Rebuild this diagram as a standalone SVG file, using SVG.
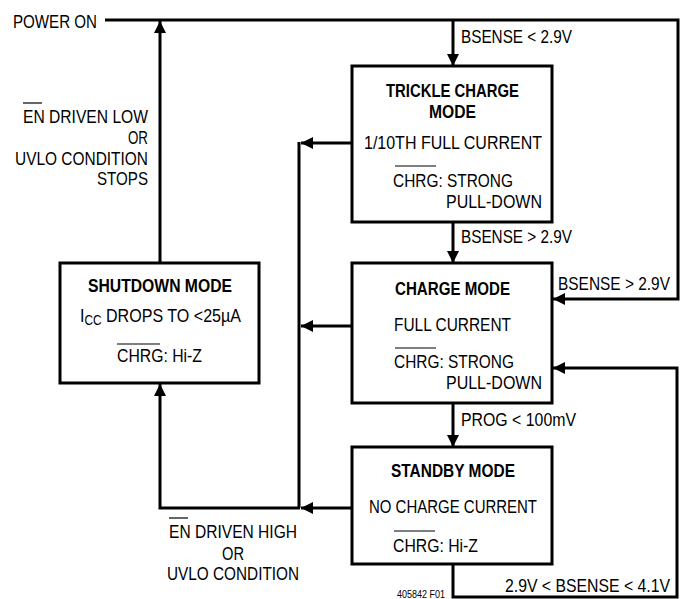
<svg xmlns="http://www.w3.org/2000/svg" width="685" height="599" viewBox="0 0 685 599">
<style>
text { font-family: "Liberation Sans", Arial, sans-serif; font-size: 19px; fill: #000; }
.b { font-weight: bold; }
.box { fill: #fff; stroke: #000; stroke-width: 3; }
.ln { fill: none; stroke: #000; stroke-width: 3; }
.ol { stroke: #000; stroke-width: 1.2; }
.small { font-size: 10px; }
</style>
<defs>
<marker id="ah" markerUnits="userSpaceOnUse" markerWidth="12" markerHeight="12" refX="12" refY="6" orient="auto" viewBox="0 0 12 12">
<path d="M0,0 L12,6 L0,12 z" fill="#000"/>
</marker>
</defs>
<rect width="685" height="599" fill="#fff"/>
<g id="connectors">
<path class="ln" d="M105,20 H678 V299 H553" marker-end="url(#ah)"/>
<path class="ln" d="M453,20 V66" marker-end="url(#ah)"/>
<path class="ln" d="M160,263 V21" marker-end="url(#ah)"/>
<path class="ln" d="M352,143 H301" marker-end="url(#ah)"/>
<path class="ln" d="M299,142 V508"/>
<path class="ln" d="M352,326 H301" marker-end="url(#ah)"/>
<path class="ln" d="M352,508 H301" marker-end="url(#ah)"/>
<path class="ln" d="M300,508 H160 V384" marker-end="url(#ah)"/>
<path class="ln" d="M453,222 V263" marker-end="url(#ah)"/>
<path class="ln" d="M453,403 V447" marker-end="url(#ah)"/>
<path class="ln" d="M453,564 V597 H677 V368 H553" marker-end="url(#ah)"/>
</g>
<g id="labels">
<text x="13" y="28" textLength="84" lengthAdjust="spacingAndGlyphs">POWER ON</text>
<text x="461" y="43" textLength="111" lengthAdjust="spacingAndGlyphs">BSENSE &lt; 2.9V</text>
<text x="461" y="243" textLength="111" lengthAdjust="spacingAndGlyphs">BSENSE &gt; 2.9V</text>
<text x="558" y="290" textLength="112" lengthAdjust="spacingAndGlyphs">BSENSE &gt; 2.9V</text>
<text x="461" y="426" textLength="115" lengthAdjust="spacingAndGlyphs">PROG &lt; 100mV</text>
<text x="505" y="592" textLength="165" lengthAdjust="spacingAndGlyphs">2.9V &lt; BSENSE &lt; 4.1V</text>
<text x="23" y="123" textLength="125" lengthAdjust="spacingAndGlyphs">EN DRIVEN LOW</text>
<line class="ol" x1="23" y1="103" x2="42" y2="103"/>
<text x="128" y="144" textLength="20" lengthAdjust="spacingAndGlyphs">OR</text>
<text x="15" y="165" textLength="133" lengthAdjust="spacingAndGlyphs">UVLO CONDITION</text>
<text x="97" y="185" textLength="51" lengthAdjust="spacingAndGlyphs">STOPS</text>
<text x="169" y="538" textLength="128" lengthAdjust="spacingAndGlyphs">EN DRIVEN HIGH</text>
<line class="ol" x1="169" y1="518" x2="188" y2="518"/>
<text x="222" y="560" textLength="22" lengthAdjust="spacingAndGlyphs">OR</text>
<text x="167" y="580" textLength="132" lengthAdjust="spacingAndGlyphs">UVLO CONDITION</text>
<text class="small" x="397" y="598" textLength="48" lengthAdjust="spacingAndGlyphs">405842 F01</text>
</g>
<g id="trickle">
<rect class="box" x="352" y="66" width="200" height="156"/>
<text class="b" x="386" y="97" textLength="133" lengthAdjust="spacingAndGlyphs">TRICKLE CHARGE</text>
<text class="b" x="429" y="118" textLength="47" lengthAdjust="spacingAndGlyphs">MODE</text>
<text x="364" y="149" textLength="178" lengthAdjust="spacingAndGlyphs">1/10TH FULL CURRENT</text>
<line class="ol" x1="395" y1="166" x2="436" y2="166"/>
<text x="393" y="187" textLength="120" lengthAdjust="spacingAndGlyphs">CHRG: STRONG</text>
<text x="446" y="208" textLength="96" lengthAdjust="spacingAndGlyphs">PULL-DOWN</text>
</g>
<g id="charge">
<rect class="box" x="352" y="263" width="200" height="140"/>
<text class="b" x="395" y="295" textLength="115" lengthAdjust="spacingAndGlyphs">CHARGE MODE</text>
<text x="394" y="331" textLength="117" lengthAdjust="spacingAndGlyphs">FULL CURRENT</text>
<line class="ol" x1="395" y1="348" x2="436" y2="348"/>
<text x="394" y="368" textLength="120" lengthAdjust="spacingAndGlyphs">CHRG: STRONG</text>
<text x="446" y="389" textLength="96" lengthAdjust="spacingAndGlyphs">PULL-DOWN</text>
</g>
<g id="standby">
<rect class="box" x="352" y="447" width="200" height="117"/>
<text class="b" x="391" y="477" textLength="124" lengthAdjust="spacingAndGlyphs">STANDBY MODE</text>
<text x="369" y="513" textLength="168" lengthAdjust="spacingAndGlyphs">NO CHARGE CURRENT</text>
<line class="ol" x1="394" y1="531" x2="435" y2="531"/>
<text x="393" y="552" textLength="85" lengthAdjust="spacingAndGlyphs">CHRG: Hi-Z</text>
</g>
<g id="shutdown">
<rect class="box" x="60" y="263" width="199" height="120"/>
<text class="b" x="88" y="292" textLength="144" lengthAdjust="spacingAndGlyphs">SHUTDOWN MODE</text>
<text x="80" y="322" textLength="161" lengthAdjust="spacingAndGlyphs">I<tspan font-size="14" dy="3">CC</tspan><tspan dy="-3"> DROPS TO &lt;25µA</tspan></text>
<line class="ol" x1="117" y1="344" x2="160" y2="344"/>
<text x="117" y="362" textLength="85" lengthAdjust="spacingAndGlyphs">CHRG: Hi-Z</text>
</g>
</svg>
